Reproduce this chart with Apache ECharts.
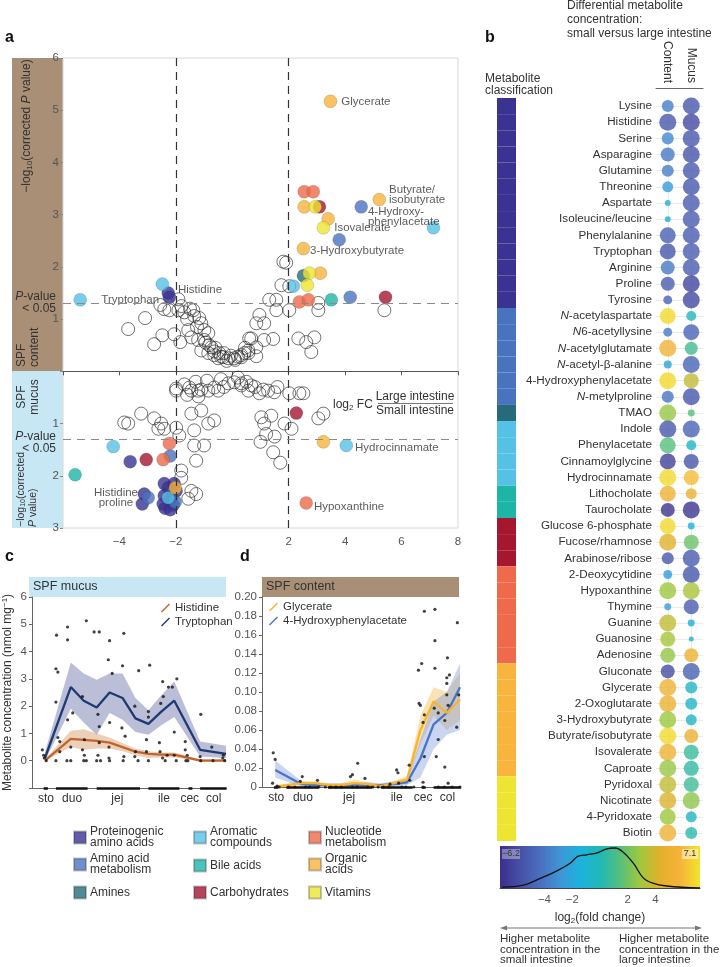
<!DOCTYPE html>
<html>
<head>
<meta charset="UTF-8">
<title>Metabolites small vs large intestine</title>
<style>
html, body { margin: 0; padding: 0; background: #fff; }
#main { width: 721px; height: 967px; }
</style>
</head>
<body>
<div id="main"></div>
<script src="https://cdn.jsdelivr.net/npm/echarts@6/dist/echarts.min.js"></script>
<script>
// ---------- data ----------
// metabolite classes (legend a, colour bar b)
var catNames = ['Proteinogenic\namino acids', 'Amino acid\nmetabolism', 'Amines', 'Aromatic\ncompounds', 'Bile acids',
    'Carbohydrates', 'Nucleotide\nmetabolism', 'Organic\nacids', 'Vitamins'];
var catColors = ['#3a3391', '#4a73bf', '#266b7c', '#56c1e6', '#1db5a6', '#a5162f', '#ee6a4a', '#f8b43c', '#ede532'];

// panel a: [log2FC, -log10 p, class, label]
var contentSig = [
    [3.48, 5.17, 7, 'Glycerate'], [2.55, 3.44, 6], [2.87, 3.44, 6], [3.09, 3.15, 5], [2.55, 3.15, 7], [2.94, 3.15, 8],
    [5.21, 3.29, 7, 'Butyrate/\nisobutyrate'], [4.57, 3.15, 1, '4-Hydroxy-\nphenylacetate'], [3.40, 2.92, 7],
    [3.23, 2.75, 8, 'Isovalerate'], [7.13, 2.75, 3], [3.79, 2.52, 1], [2.52, 2.35, 7, '3-Hydroxybutyrate'],
    [2.52, 1.83, 2], [2.73, 1.88, 8], [3.12, 1.88, 7], [2.66, 1.65, 8], [2.16, 1.63, 3], [2.38, 1.33, 6],
    [2.70, 1.37, 6], [3.51, 1.37, 4], [4.18, 1.42, 1], [5.43, 1.42, 5], [-2.48, 1.67, 3],
    [-2.27, 1.50, 0, 'Histidine'], [-2.23, 1.42, 0, 'Tryptophan'], [-5.39, 1.37, 3]
];
var mucusSig = [
    [-4.22, 1.44, 3], [-3.62, 1.73, 0], [-3.05, 1.69, 5], [-2.45, 1.69, 6], [-2.23, 1.38, 6], [-2.20, 1.62, 1],
    [-5.57, 1.98, 4], [-2.41, 2.15, 0], [-2.27, 2.23, 0], [-2.06, 2.15, 0], [-2.41, 2.38, 0], [-2.16, 2.42, 0],
    [-1.99, 2.29, 0], [-2.45, 2.54, 0], [-2.09, 2.56, 0], [-2.38, 2.62, 0], [-2.20, 2.65, 0], [-2.02, 2.50, 1],
    [-2.02, 2.23, 7], [-2.27, 2.42, 3], [-3.12, 2.35, 0, 'Histidine\nproline'], [-2.98, 2.42, 1], [-3.19, 2.54, 0],
    [4.04, 1.42, 3, 'Hydrocinnamate'], [3.23, 1.35, 7], [2.27, 0.80, 5], [2.62, 2.52, 6, 'Hypoxanthine']
];
var contentNS = [
    [-2.55, 1.27], [-2.41, 1.19], [-2.23, 1.17], [-1.91, 1.38], [-1.91, 1.17], [-1.70, 1.13], [-1.38, 1.17], [-1.35, 1.06],
    [-1.17, 1.02], [-1.10, 0.92], [-0.99, 0.79], [-0.85, 0.73], [-0.99, 0.60], [-0.82, 0.50], [-0.74, 0.46], [-0.64, 0.38],
    [-0.46, 0.35], [-0.32, 0.27], [-0.14, 0.25], [0.07, 0.25], [0.32, 0.27], [0.57, 0.35], [0.60, 0.63], [-3.09, 1.02],
    [-3.69, 0.81], [-2.48, 0.69], [-2.06, 0.71], [-2.77, 0.52], [-1.84, 0.56], [-1.56, 0.79], [-1.45, 0.65], [-1.21, 0.60],
    [-1.10, 0.40], [-0.85, 0.35], [-0.50, 0.25], [-0.64, 0.31], [1.81, 2.10], [1.91, 2.08], [1.74, 1.65], [2.02, 1.63],
    [1.31, 1.37], [1.56, 1.37], [1.56, 1.17], [2.02, 1.17], [3.05, 1.31], [3.05, 1.17], [0.96, 1.08], [0.85, 0.92],
    [1.13, 0.92], [0.67, 0.63], [1.13, 0.60], [1.45, 0.62], [0.85, 0.46], [0.57, 0.40], [0.43, 0.35], [0.32, 0.31],
    [0.85, 0.29], [2.34, 0.63], [2.62, 0.56], [2.91, 0.65], [2.80, 0.37], [5.39, 1.17], [-1.60, 1.00], [-1.25, 0.85],
    [-0.95, 0.55], [-0.60, 0.45], [-0.30, 0.35], [-0.05, 0.30], [0.20, 0.28], [0.45, 0.45], [-1.80, 1.25], [-1.50, 1.20],
    [-0.20, 0.20], [0.10, 0.22], [-0.40, 0.28]
];
var mucusNS = [
    [-3.83, 0.98], [-3.23, 0.81], [-2.77, 0.90], [-2.52, 1.00], [-2.62, 1.10], [-2.41, 1.10], [-1.99, 1.08], [-1.45, 0.81],
    [-1.10, 0.75], [-1.35, 1.13], [-0.85, 1.00], [-0.64, 0.94], [-1.88, 1.23], [-1.35, 1.42], [-1.00, 1.42], [-1.28, 1.71],
    [-1.81, 1.90], [-1.81, 2.04], [-1.45, 2.29], [-1.28, 2.35], [-1.56, 2.44], [-3.69, 1.00], [-1.99, 0.33], [-1.52, 0.31],
    [-1.10, 0.35], [-0.64, 0.31], [-0.14, 0.23], [0.07, 0.21], [0.32, 0.27], [0.57, 0.37], [-1.99, 0.37], [-1.45, 0.37],
    [-1.21, 0.37], [-0.85, 0.37], [-0.50, 0.37], [-1.70, 0.25], [-1.30, 0.20], [-0.90, 0.18], [-0.40, 0.15], [0.20, 0.12],
    [0.50, 0.20], [0.80, 0.30], [1.10, 0.35], [-1.60, 0.45], [-1.20, 0.48], [-0.30, 0.30], [1.60, 0.30], [0.32, 0.23],
    [0.67, 0.27], [0.96, 0.42], [1.27, 0.37], [1.49, 0.40], [2.02, 0.42], [2.38, 0.42], [2.52, 0.42], [1.03, 0.88],
    [1.38, 0.85], [1.13, 1.00], [3.05, 0.90], [3.23, 0.81], [1.20, 1.20], [1.50, 1.25], [1.00, 1.35], [1.45, 1.55],
    [1.70, 1.75], [2.10, 1.10], [1.85, 1.00]
];

// panel b
var metabolites = ['Lysine', 'Histidine', 'Serine', 'Asparagine', 'Glutamine', 'Threonine', 'Aspartate', 'Isoleucine/leucine',
    'Phenylalanine', 'Tryptophan', 'Arginine', 'Proline', 'Tyrosine', 'N-acetylaspartate', 'N6-acetyllysine',
    'N-acetylglutamate', 'N-acetyl-β-alanine', '4-Hydroxyphenylacetate', 'N-metylproline', 'TMAO', 'Indole',
    'Phenylacetate', 'Cinnamoylglycine', 'Hydrocinnamate', 'Lithocholate', 'Taurocholate', 'Glucose 6-phosphate',
    'Fucose/rhamnose', 'Arabinose/ribose', '2-Deoxycytidine', 'Hypoxanthine', 'Thymine', 'Guanine', 'Guanosine',
    'Adenosine', 'Gluconate', 'Glycerate', '2-Oxoglutarate', '3-Hydroxybutyrate', 'Butyrate/isobutyrate',
    'Isovalerate', 'Caproate', 'Pyridoxal', 'Nicotinate', '4-Pyridoxate', 'Biotin'];
var classCounts = [13, 6, 1, 4, 2, 3, 6, 7, 4];
var fcContent = [-3.0, -4.5, -2.6, -3.2, -3.0, -1.8, -1.0, -1.0, -4.2, -4.6, -3.2, -4.3, -4.0, 6.8, -3.2, 5.6, -1.5, 6.8,
    -3.3, 3.0, -4.5, 1.8, -5.5, 6.8, 5.3, -6.0, 6.8, 4.4, -4.5, -1.8, 3.1, -1.8, 3.8, 3.3, 2.9, -5.0, 5.2, 5.0, 3.1, 6.8,
    5.2, 3.0, 3.8, 4.3, 3.1, 5.2];
var fcMucus = [-4.5, -5.2, -4.5, -4.8, -4.5, -4.5, -4.4, -4.4, -4.4, -4.4, -4.4, -5.3, -5.2, 0.3, -4.0, 1.3, -4.0, 3.8,
    -4.6, 1.8, -4.0, -0.1, -4.6, 6.0, 5.0, -6.0, -0.9, 2.2, -4.4, -4.6, 3.3, -4.3, -0.9, -1.0, 5.0, -4.2, 0.0, 0.0, 0.0,
    5.0, 1.1, 0.9, 1.2, 2.8, 0.2, 0.7];
// significance score 0..1
var sigContent = [0.62, 1, 0.62, 0.77, 0.62, 0.54, 0.15, 0.15, 0.92, 0.92, 0.77, 0.77, 0.38, 0.92, 0.38, 1, 0.31, 1,
    0.62, 1, 1, 0.92, 0.92, 1, 0.92, 0.77, 0.92, 1, 0.62, 0.38, 1, 0.23, 1, 0.85, 0.85, 0.77, 1, 1, 1, 1, 1, 1, 1, 1, 0.92, 1];
var sigMucus = [1, 1, 1, 1, 1, 1, 1, 1, 1, 1, 1, 1, 1, 0.46, 0.92, 0.69, 1, 0.85, 1, 0.23, 1, 0.46, 0.85, 0.85, 0.54, 1,
    0.23, 0.85, 1, 1, 1, 0.85, 0.23, 0.08, 0.77, 1, 0.62, 0.62, 0.54, 0.77, 0.85, 0.85, 0.85, 1, 0.54, 0.62];
var fcMin = -6.2, fcMax = 7.1;
var densX = [-7.05, -5.5, -4.3, -3.1, -2.15, -1.6, -0.95, -0.2, 0.5, 1.08, 1.65, 2.4, 3.1, 3.8, 4.8, 7.2];
var densY = [0.02, 0.07, 0.24, 0.43, 0.62, 0.79, 0.83, 0.88, 0.98, 1.0, 0.90, 0.62, 0.26, 0.12, 0.05, 0.0];
var fcTicks = [-4, -2, 2, 4];

// panels c, d: gut segments along the x axis
var segNames = ['sto', 'duo', 'jej', 'ile', 'cec', 'col'];
var segPos = [0.08, 2.1, 5.6, 9.2, 11.2, 13.05];
var segRanges = [[-0.1, 0.23], [0.85, 3.3], [4.0, 7.35], [8.0, 10.4], [11.1, 11.4], [12.0, 14.05]];

var cX = [0, 2, 3, 4, 5, 6, 7, 8, 9, 10, 12, 14];
var cHis = [0, 0.8, 0.76, 0.73, 0.66, 0.5, 0.33, 0.25, 0.22, 0.22, 0, 0];
var cHisLo = [0, 0.5, 0.4, 0.45, 0.45, 0.35, 0.2, 0.1, 0.12, 0.12, 0, 0];
var cHisHi = [0.05, 1.1, 1.15, 1.0, 0.85, 0.65, 0.45, 0.35, 0.3, 0.3, 0.05, 0.05];
var cTrp = [0.1, 2.7, 2.2, 1.95, 2.5, 2.3, 1.55, 1.35, 1.8, 2.2, 0.4, 0.25];
var cTrpLo = [0, 1.9, 1.4, 0.95, 1.75, 1.5, 1.05, 0.95, 1.3, 1.6, 0.15, 0.1];
var cTrpHi = [0.3, 3.6, 3.2, 2.97, 3.2, 3.2, 2.3, 1.85, 2.4, 2.9, 0.7, 0.55];
var cDots = [[0.9, 4.6], [1.75, 4.9], [1.75, 4.43], [3.2, 5.13], [3.8, 4.72], [4.2, 4.72], [5.0, 4.4], [6.1, 4.67],
    [4.9, 3.7], [0.85, 3.37], [1.0, 3.25], [5.2, 3.2], [6.0, 3.48], [7.25, 3.3], [8.1, 3.5], [10.2, 3.0], [9.1, 2.9],
    [9.55, 2.7], [9.15, 2.35], [9.85, 2.7], [8.95, 2.1], [10.0, 1.05], [-0.2, 0.4], [-0.1, 0.2], [0.85, 2.15], [1.0, 0.85],
    [1.15, 0.7], [1.15, 0.33], [0.85, 0], [1.7, 0], [2.0, 0], [1.75, 1.5], [2.0, 0.5], [2.15, 1.75], [2.9, 2.35],
    [2.9, 0.4], [3.05, 0.2], [3.0, 0], [3.2, 0], [3.05, 0.77], [4.1, 1.7], [4.2, 1.25], [4.1, 0.2], [4.0, 0], [4.3, 0],
    [4.2, 0.66], [5.0, 1.4], [4.95, 0.5], [5.0, 0], [4.95, 0.1], [5.95, 1.2], [6.2, 0.9], [6.1, 0.15], [6.05, 0],
    [6.95, 2.0], [6.95, 0.15], [7.2, 0], [7.0, 0.33], [8.0, 1.8], [7.85, 0.77], [8.0, 1.6], [7.85, 0.33], [8.0, 0],
    [8.85, 0.66], [8.9, 0.33], [9.1, 0.1], [9.45, 0.2], [9.3, 0], [10.0, 0.2], [10.15, 0], [10.85, 0.7], [10.85, 0.4],
    [11.0, 0.2], [10.9, 0], [11.05, 0], [12.05, 1.7], [12.0, 0.15], [12.05, 0], [12.9, 0.5], [13.0, 0], [13.8, 0.2],
    [13.9, 0], [13.75, 0.1], [0.1, 0], [-0.05, 0.1]];

var dX = [0, 2, 3, 4, 5, 6, 7, 8, 9, 10, 11, 12, 13, 14];
var dGly = [0, 0.004, 0.004, 0.002, 0.002, 0.004, 0.003, 0.001, 0.004, 0.008, 0.06, 0.09, 0.078, 0.092];
var dGlyLo = [0, 0.002, 0.002, 0.001, 0.001, 0.002, 0.001, 0, 0.002, 0.005, 0.045, 0.075, 0.06, 0.07];
var dGlyHi = [0.002, 0.006, 0.006, 0.004, 0.004, 0.008, 0.005, 0.003, 0.006, 0.012, 0.075, 0.105, 0.1, 0.12];
var dHpa = [0.018, 0.003, 0.002, 0.002, 0.002, 0.002, 0.002, 0.002, 0.003, 0.005, 0.03, 0.066, 0.078, 0.105];
var dHpaLo = [0.01, 0, 0, 0, 0, 0, 0, 0, 0, 0.002, 0.01, 0.04, 0.055, 0.06];
var dHpaHi = [0.028, 0.006, 0.004, 0.004, 0.004, 0.004, 0.005, 0.004, 0.006, 0.008, 0.05, 0.09, 0.1, 0.13];
var dDots = [[11.3, 0.185], [12.1, 0.187], [13.8, 0.173], [12.1, 0.154], [13.05, 0.136], [11.1, 0.13], [10.85, 0.123],
    [12.1, 0.125], [14.05, 0.124], [13.0, 0.115], [13.2, 0.118], [-0.15, 0.036], [0, 0.029], [-0.2, 0.004], [0.15, 0.001],
    [2.05, 0.011], [1.9, 0.006], [2.3, 0], [3.2, 0.007], [3.3, 0], [5.7, 0.011], [5.85, 0.013], [6.25, 0.025], [5.85, 0],
    [6.8, 0.009], [7, 0], [8.7, 0.003], [9.2, 0.018], [9.3, 0.015], [9.35, 0.004], [9.9, 0], [10.15, 0.023], [10.2, 0.007],
    [10.9, 0.088], [11.0, 0.086], [11.2, 0.068], [11.3, 0.076], [11.3, 0.032], [11.2, 0.005], [11.2, 0], [12.05, 0.083],
    [12.35, 0.078], [12.35, 0.05], [12.2, 0.032], [12.35, 0], [13.0, 0.109], [13.0, 0.097], [13.1, 0.086], [12.85, 0.07],
    [12.85, 0.021], [13.1, 0.004], [13.9, 0.097], [13.75, 0.063], [14.0, 0], [0.3, 0], [1, 0], [1.5, 0], [2.6, 0],
    [3.8, 0], [4.2, 0], [4.6, 0], [5, 0], [6.2, 0], [7.4, 0], [7.8, 0], [8.2, 0], [8.6, 0], [9.6, 0], [10.5, 0],
    [12.8, 0], [13.4, 0]];

// ---------- chart ----------
var FONT = 'Liberation Sans, Arial, sans-serif';
var TXT = '#333';
var palette = ['#3b2f8c', '#4650a6', '#4a6fbe', '#3f95d6', '#1cb2dc', '#20b8b8', '#55bf7c', '#9fc83e', '#e2b02a', '#f6b33a', '#f2e52b'];
var myChart = echarts.init(document.getElementById('main'));

// label placement for annotated points in panel a
var labelPlace = {
    'Glycerate': { position: 'right', distance: 4 },
    'Butyrate/\nisobutyrate': { position: [16.5, -8.5], align: 'left', verticalAlign: 'top' },
    '4-Hydroxy-\nphenylacetate': { position: [13.5, 6.5], align: 'left', verticalAlign: 'top' },
    'Isovalerate': { position: 'right', distance: 4 },
    '3-Hydroxybutyrate': { position: [13.5, 9.5], align: 'left', verticalAlign: 'middle' },
    'Histidine': { position: [16.5, 3.5], align: 'left', verticalAlign: 'middle' },
    'Tryptophan': { position: [-3.5, 9.5], align: 'right', verticalAlign: 'middle' },
    'Hydrocinnamate': { position: [15.5, 9.5], align: 'left', verticalAlign: 'middle' },
    'Hypoxanthine': { position: [14.5, 10.5], align: 'left', verticalAlign: 'middle' },
    'Histidine\nproline': { position: [-21.5, 10.5], align: 'center', verticalAlign: 'middle' }
};
function aPoint(x, y, name) {
    var item = { value: [x, y] };
    if (name) {
        var lp = labelPlace[name];
        item.label = {
            show: true, formatter: name, position: lp.position, distance: lp.distance || 0,
            align: lp.align, verticalAlign: lp.verticalAlign,
            fontSize: 11.5, lineHeight: 10.5, color: TXT, fontFamily: FONT
        };
    }
    return item;
}

var series = [];
// panel a: non-significant open circles + threshold lines
var nsPts = contentNS.map(function (p) { return [p[0], p[1]]; })
    .concat(mucusNS.map(function (p) { return [p[0], -p[1]]; }));
var dashV = { color: '#333', type: [8, 6], width: 1.2 };
var dashH = { color: '#8a8a8a', type: [8, 6], width: 1.2 };
series.push({
    type: 'scatter', name: 'ns', xAxisIndex: 0, yAxisIndex: 0, symbolSize: 13, data: nsPts, z: 2,
    itemStyle: { color: 'rgba(255,255,255,0)', borderColor: '#222', borderWidth: 0.8 },
    markLine: {
        silent: true, symbol: 'none', label: { show: false },
        data: [{ xAxis: -2, lineStyle: dashV }, { xAxis: 2, lineStyle: dashV },
            { yAxis: 1.3, lineStyle: dashH }, { yAxis: -1.3, lineStyle: dashH }]
    }
});
for (var c = 0; c < catNames.length; c++) {
    var pts = [];
    contentSig.forEach(function (p) { if (p[2] === c) pts.push(aPoint(p[0], p[1], p[3])); });
    mucusSig.forEach(function (p) { if (p[2] === c) pts.push(aPoint(p[0], -p[1], p[3])); });
    series.push({
        type: 'scatter', name: catNames[c], xAxisIndex: 0, yAxisIndex: 0, symbolSize: 13, data: pts, z: 3,
        itemStyle: { color: catColors[c], borderColor: 'rgba(40,40,40,0.35)', borderWidth: 0.6 }
    });
}

// panel b: class bar
var classOf = [];
classCounts.forEach(function (n, k) { for (var j = 0; j < n; j++) classOf.push(k); });
series.push({
    type: 'bar', xAxisIndex: 1, yAxisIndex: 1, barCategoryGap: '0%', silent: true,
    data: metabolites.map(function (m, i) { return { value: 1, itemStyle: { color: catColors[classOf[i]] } }; })
});
// panel b: bubbles
var bub = [];
metabolites.forEach(function (m, i) {
    bub.push([0, i, fcContent[i], sigContent[i]]);
    bub.push([1, i, fcMucus[i], sigMucus[i]]);
});
var bubbleIndex = series.length;
series.push({
    type: 'scatter', xAxisIndex: 2, yAxisIndex: 2, data: bub, z: 3,
    symbolSize: function (v) { return 4 + 13 * v[3]; },
    markLine: {
        silent: true, symbol: 'none', label: { show: false }, z: 1,
        lineStyle: { color: '#e6e6e6', width: 0.8, type: 'solid' },
        data: [{ xAxis: 'Content' }, { xAxis: 'Mucus' }].concat(metabolites.map(function (m) { return { yAxis: m }; }))
    }
});
// panel b: density over colour bar
series.push({
    type: 'line', xAxisIndex: 3, yAxisIndex: 3, smooth: 0.4, symbol: 'none', silent: true,
    lineStyle: { color: '#111', width: 1.3 },
    data: densX.map(function (x, i) { return [x, densY[i]]; })
});

// panels c, d helpers
function band(name, xi, xs, lo, hi, color) {
    return {
        type: 'custom', name: name, xAxisIndex: xi, yAxisIndex: xi, silent: true, data: [[0, 0]], z: 1,
        renderItem: function (params, api) {
            var p = [];
            for (var i = 0; i < xs.length; i++) p.push(api.coord([xs[i], hi[i]]));
            for (var j = xs.length - 1; j >= 0; j--) p.push(api.coord([xs[j], lo[j]]));
            return { type: 'polygon', shape: { points: p }, style: { fill: color } };
        }
    };
}
function line(name, xi, xs, ys, color) {
    return {
        type: 'line', name: name, xAxisIndex: xi, yAxisIndex: xi, symbol: 'none', z: 3, silent: true,
        itemStyle: { color: color }, lineStyle: { color: color, width: 2.3 },
        data: xs.map(function (x, i) { return [x, ys[i]]; })
    };
}
function dots(xi, d) {
    return {
        type: 'scatter', xAxisIndex: xi, yAxisIndex: xi, symbolSize: 3.2, data: d, z: 4, silent: true,
        itemStyle: { color: '#111' }
    };
}
function segBars(xi, y) {
    return {
        type: 'lines', coordinateSystem: 'cartesian2d', xAxisIndex: xi, yAxisIndex: xi, clip: false, silent: true, z: 5,
        lineStyle: { color: '#111', width: 2.5, opacity: 1 },
        data: segRanges.map(function (r) { return { coords: [[r[0], y], [r[1], y]] }; })
    };
}
series.push(band('Histidine band', 4, cX, cHisLo, cHisHi, 'rgba(214,150,100,0.45)'));
series.push(band('Tryptophan band', 4, cX, cTrpLo, cTrpHi, 'rgba(120,125,175,0.5)'));
series.push(line('Histidine', 4, cX, cHis, '#c0652d'));
series.push(line('Tryptophan', 4, cX, cTrp, '#1f3a72'));
series.push(dots(4, cDots));
series.push(segBars(4, -1.02));

series.push(band('Glycerate band', 5, dX, dGlyLo, dGlyHi, 'rgba(245,190,90,0.45)'));
series.push(band('4-HPA band', 5, dX, dHpaLo, dHpaHi, 'rgba(120,150,220,0.4)'));
series.push(line('4-Hydroxyphenylacetate', 5, dX, dHpa, '#4a74c6'));
series.push(line('Glycerate', 5, dX, dGly, '#f7b42c'));
series.push(dots(5, dDots));
series.push(segBars(5, -0.0005));

// axes
function segLabel(v) {
    for (var k = 0; k < segPos.length; k++) if (Math.abs(segPos[k] - v) < 1e-6) return segNames[k];
    return '';
}
var lab = { fontSize: 11.5, color: '#555', fontFamily: FONT };
var segAxis = function (gi) {
    return {
        gridIndex: gi, type: 'value', min: -1, max: 14, splitLine: { show: false },
        axisLine: { onZero: false, lineStyle: { color: '#666' } }, axisTick: { show: false },
        axisLabel: { customValues: segPos, formatter: segLabel, margin: 5, fontSize: 12, color: TXT, fontFamily: FONT }
    };
};

var xAxis = [
    {
        gridIndex: 0, type: 'value', min: -6, max: 8, interval: 2, splitLine: { show: false },
        axisLine: { onZero: true, lineStyle: { color: '#555' } }, axisTick: { length: 4, lineStyle: { color: '#555' } },
        axisLabel: Object.assign({ formatter: function (v) { return v === 0 || v === -6 ? '' : (v < 0 ? '−' + (-v) : v); } }, lab)
    },
    { gridIndex: 1, type: 'value', min: 0, max: 1, show: false },
    {
        gridIndex: 2, type: 'category', data: ['Content', 'Mucus'], position: 'top', offset: 10,
        axisLine: { lineStyle: { color: '#666' } },
        axisTick: { alignWithLabel: true, length: 5, lineStyle: { color: '#666' } },
        axisLabel: { rotate: 90, fontSize: 12, color: TXT, margin: 5, fontFamily: FONT }
    },
    {
        gridIndex: 3, type: 'value', min: -7.2, max: 7.2, splitLine: { show: false },
        axisLine: { onZero: false, lineStyle: { color: '#444' } }, axisTick: { show: false },
        axisLabel: {
            customValues: fcTicks, fontSize: 11.5, color: '#555', margin: 6, fontFamily: FONT,
            formatter: function (v) { return v < 0 ? '−' + (-v) : String(v); }
        },
        name: '{a|log}{s|2}{a|(fold change)}', nameLocation: 'middle', nameGap: 23,
        nameTextStyle: {
            rich: {
                a: { fontSize: 12, color: TXT, fontFamily: FONT, lineHeight: 14 },
                s: { fontSize: 8, color: TXT, fontFamily: FONT, lineHeight: 8, verticalAlign: 'bottom' }
            }
        }
    },
    segAxis(4),
    segAxis(5)
];
var yAxis = [
    {
        gridIndex: 0, type: 'value', min: -3, max: 6, interval: 1, splitLine: { show: false },
        axisLine: { show: false, onZero: false }, axisTick: { length: 3, lineStyle: { color: '#888' } },
        axisLabel: Object.assign({ margin: 4, formatter: function (v) { return v === 0 ? '' : Math.abs(v); } }, lab)
    },
    { gridIndex: 1, type: 'category', data: metabolites, inverse: true, show: false },
    {
        gridIndex: 2, type: 'category', data: metabolites, inverse: true,
        axisLine: { show: false }, axisTick: { alignWithLabel: true, length: 8, lineStyle: { color: '#666' } },
        axisLabel: {
            interval: 0, fontSize: 11.7, color: TXT, margin: 4, fontFamily: FONT,
            formatter: function (m) { return /^N[-6]/.test(m) ? '{i|N}' + m.slice(1) : m; },
            rich: { i: { fontStyle: 'italic', fontSize: 11.7, color: TXT, fontFamily: FONT } }
        }
    },
    { gridIndex: 3, type: 'value', min: 0, max: 1.05, show: false },
    {
        gridIndex: 4, type: 'value', min: -1, max: 6, interval: 1, splitLine: { show: false },
        axisLine: { show: true, onZero: false, lineStyle: { color: '#666' } }, axisTick: { show: true, length: 3 },
        axisLabel: Object.assign({ margin: 5, formatter: function (v) { return v < 0 ? '' : v; } }, lab),
        name: '{a|Metabolite concentration (nmol mg}{s|−1}{a|)}', nameLocation: 'middle', nameGap: 17,
        nameTextStyle: {
            rich: {
                a: { fontSize: 12, color: TXT, fontFamily: FONT, lineHeight: 14 },
                s: { fontSize: 8, color: TXT, fontFamily: FONT, lineHeight: 8, verticalAlign: 'top' }
            }
        }
    },
    {
        gridIndex: 5, type: 'value', min: 0, max: 0.2, interval: 0.02, splitLine: { show: false },
        axisLine: { show: true, onZero: false, lineStyle: { color: '#666' } }, axisTick: { show: true, length: 3 },
        axisLabel: Object.assign({ margin: 5, formatter: function (v) { return v === 0 ? '0' : v.toFixed(2); } }, lab)
    }
];

var grid = [
    { left: 63, top: 58, width: 395, height: 470, show: true, borderColor: '#d8d8d8', borderWidth: 1 },
    { left: 497, top: 98, width: 19, height: 743 },
    { left: 656, top: 98, width: 47, height: 743 },
    { left: 500, top: 846, width: 200, height: 42 },
    { left: 29, top: 597, width: 197, height: 191 },
    { left: 262, top: 597, width: 198, height: 190 }
];

// legends
var slash = 'path://M0,9L8,1L9,2L1,10Z';
var legend = [
    {
        data: ['Histidine', 'Tryptophan'], left: 156, top: 597, orient: 'vertical', itemGap: 2, itemWidth: 9, itemHeight: 9,
        icon: slash, selectedMode: false, textStyle: { fontSize: 11.5, color: TXT, fontFamily: FONT }
    },
    {
        data: ['Glycerate', '4-Hydroxyphenylacetate'], left: 264, top: 596, orient: 'vertical', itemGap: 2, itemWidth: 9,
        itemHeight: 9, icon: slash, selectedMode: false, textStyle: { fontSize: 11.5, color: TXT, fontFamily: FONT }
    }
];
var legCols = [73, 193, 308], legRows = [837, 864, 891];
catNames.forEach(function (n, k) {
    var col = Math.floor(k / 3), row = k % 3;
    var lines = n.split('\n').length;
    legend.push({
        data: [n], left: legCols[col], top: legRows[row] - lines * 5.5, itemWidth: 12, itemHeight: 12, icon: 'rect',
        itemGap: 0, selectedMode: false, padding: 0,
        textStyle: { fontSize: 12, lineHeight: 11, color: TXT, fontFamily: FONT, padding: [0, 0, 0, -1] }
    });
});

// free text and decorations
var rich12 = {
    a: { fontSize: 12, color: TXT, fontFamily: FONT, lineHeight: 13 },
    i: { fontSize: 12, color: TXT, fontFamily: FONT, lineHeight: 13, fontStyle: 'italic' },
    s: { fontSize: 8, color: TXT, fontFamily: FONT, lineHeight: 8, verticalAlign: 'bottom' }
};
var rich10 = {
    a: { fontSize: 10.5, color: TXT, fontFamily: FONT, lineHeight: 12 },
    i: { fontSize: 10.5, color: TXT, fontFamily: FONT, lineHeight: 12, fontStyle: 'italic' },
    s: { fontSize: 7, color: TXT, fontFamily: FONT, lineHeight: 7, verticalAlign: 'bottom' }
};
function txt(x, y, t, extra) {
    var st = Object.assign({ x: 0, y: 0, text: t, fill: TXT, font: '12px ' + FONT, rich: rich12 }, extra || {});
    return { type: 'text', x: x, y: y, style: st, silent: true };
}
function rtxt(x, y, t, align, rich) {
    return {
        type: 'text', x: x, y: y, rotation: Math.PI / 2, silent: true,
        style: { text: t, fill: TXT, font: '12px ' + FONT, align: align, verticalAlign: 'middle', rich: rich || rich12 }
    };
}
var grad = new echarts.graphic.LinearGradient(0, 0, 1, 0, palette.map(function (c, i) {
    return { offset: i / (palette.length - 1), color: c };
}));
var graphic = [
    { type: 'rect', shape: { x: 12, y: 58, width: 51, height: 313 }, style: { fill: '#a88f75' }, z: -1, silent: true },
    { type: 'rect', shape: { x: 12, y: 371, width: 51, height: 157 }, style: { fill: '#c7e7f4' }, z: -1, silent: true },
    txt(5, 38, 'a', { font: 'bold 16px ' + FONT, fill: '#111', verticalAlign: 'middle' }),
    txt(485, 38, 'b', { font: 'bold 16px ' + FONT, fill: '#111', verticalAlign: 'middle' }),
    txt(5, 557, 'c', { font: 'bold 16px ' + FONT, fill: '#111', verticalAlign: 'middle' }),
    txt(240, 557, 'd', { font: 'bold 16px ' + FONT, fill: '#111', verticalAlign: 'middle' }),
    rtxt(27, 126, '{a|−log}{s|10}{a|(corrected }{i|P}{a| value)}', 'center'),
    rtxt(28, 367, '{a|SPF}\n{a|content}', 'left'),
    rtxt(28, 397, '{a|SPF}\n{a|mucus}', 'center'),
    rtxt(27, 527, '{a|−log}{s|10}{a|(corrected}\n{i|P}{a| value)}', 'left', rich10),
    txt(56, 297, '{i|P}{a|-value}', { align: 'right', verticalAlign: 'middle' }),
    txt(56, 309, '< 0.05', { align: 'right', verticalAlign: 'middle' }),
    txt(56, 437, '{i|P}{a|-value}', { align: 'right', verticalAlign: 'middle' }),
    txt(56, 449, '< 0.05', { align: 'right', verticalAlign: 'middle' }),
    txt(333, 405, '{a|log}{s|2}{a| FC}', { verticalAlign: 'middle' }),
    txt(415, 397, 'Large intestine', { align: 'center', verticalAlign: 'middle' }),
    { type: 'line', shape: { x1: 378, y1: 403.5, x2: 453, y2: 403.5 }, style: { stroke: '#555', lineWidth: 0.8 }, silent: true },
    txt(415, 411, 'Small intestine', { align: 'center', verticalAlign: 'middle' }),
    // panel b headings
    txt(567, -1, 'Differential metabolite\nconcentration:\nsmall versus large intestine', { lineHeight: 14, verticalAlign: 'top' }),
    txt(485, 73, 'Metabolite\nclassification', { lineHeight: 11.5, verticalAlign: 'top' }),
    // colour bar
    { type: 'rect', shape: { x: 500, y: 846, width: 200, height: 42 }, style: { fill: grad }, z: -1, silent: true },
    { type: 'rect', shape: { x: 502, y: 849, width: 18, height: 10 }, style: { fill: 'rgba(255,255,255,0.35)' }, silent: true },
    txt(511, 854, '−6.2', { align: 'center', verticalAlign: 'middle', font: '9px ' + FONT, fill: '#333' }),
    { type: 'rect', shape: { x: 682, y: 849, width: 16, height: 10 }, style: { fill: 'rgba(255,255,255,0.45)' }, silent: true },
    txt(690, 854, '7.1', { align: 'center', verticalAlign: 'middle', font: '9px ' + FONT, fill: '#333' }),
    { type: 'line', shape: { x1: 504, y1: 928, x2: 698, y2: 928 }, style: { stroke: '#777', lineWidth: 1 }, silent: true },
    { type: 'polygon', shape: { points: [[500, 928], [507, 925.5], [507, 930.5]] }, style: { fill: '#777' }, silent: true },
    { type: 'polygon', shape: { points: [[702, 928], [695, 925.5], [695, 930.5]] }, style: { fill: '#777' }, silent: true },
    txt(500, 934, 'Higher metabolite\nconcentration in the\nsmall intestine', { lineHeight: 10.5, verticalAlign: 'top', font: '11.5px ' + FONT }),
    txt(619, 934, 'Higher metabolite\nconcentration in the\nlarge intestine', { lineHeight: 10.5, verticalAlign: 'top', font: '11.5px ' + FONT }),
    // panels c, d title bands
    { type: 'rect', shape: { x: 29, y: 577, width: 197, height: 20 }, style: { fill: '#c7e7f4' }, silent: true },
    txt(33, 587, 'SPF mucus', { verticalAlign: 'middle', font: '12.5px ' + FONT }),
    { type: 'rect', shape: { x: 262, y: 577, width: 197, height: 20 }, style: { fill: '#a88f75' }, silent: true },
    txt(266, 587, 'SPF content', { verticalAlign: 'middle', font: '12.5px ' + FONT })
];

myChart.setOption({
    animation: false,
    textStyle: { fontFamily: FONT },
    grid: grid,
    xAxis: xAxis,
    yAxis: yAxis,
    legend: legend,
    visualMap: {
        show: false, type: 'continuous', seriesIndex: bubbleIndex, dimension: 2, min: fcMin, max: fcMax,
        inRange: { color: palette }
    },
    graphic: graphic,
    series: series
});
</script>
</body>
</html>
